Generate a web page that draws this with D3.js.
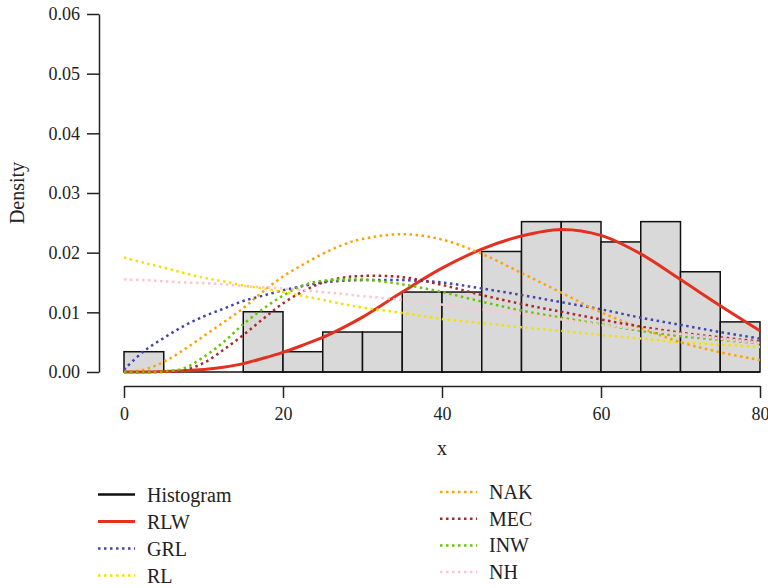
<!DOCTYPE html>
<head>
  <meta charset="utf-8">
  <style>
    body { margin: 0; background: #fff; }
    svg text { font-family: 'Liberation Serif', 'DejaVu Serif', serif !important; fill: #222; }
    .axis text { font-size: 18px; }
    .axis path, .axis line { stroke: #222; stroke-width: 1.5; }
  </style>
</head>
<body>
  <script src="https://cdn.jsdelivr.net/npm/d3@7"></script>
  <script>
    const width = 768;
    const height = 588;
    const serif = "'Liberation Serif', 'DejaVu Serif', serif";

    // histogram: bin starts (width 5) and densities
    const binStarts = [0, 5, 10, 15, 20, 25, 30, 35, 40, 45, 50, 55, 60, 65, 70, 75];
    const binDensity = [0.0034, 0, 0, 0.0101, 0.0034, 0.0067, 0.0067, 0.0134, 0.0134, 0.0202, 0.0252, 0.0252, 0.0218, 0.0252, 0.0168, 0.0084];

    // x positions where the fitted densities were read
    const xs = [0, 2.5, 5, 7.5, 10, 12.5, 15, 17.5, 20, 22.5, 25, 27.5, 30, 35, 40, 45, 50, 55, 60, 65, 70, 75, 80];
    const rlw = [0, 0, 0.0001, 0.0002, 0.0004, 0.0008, 0.0014, 0.0023, 0.0033, 0.0045, 0.0058, 0.0074, 0.0092, 0.0134, 0.0174, 0.0206, 0.0228, 0.0239, 0.0229, 0.0198, 0.0155, 0.0111, 0.0069];
    const grl = [0.0004, 0.0035, 0.0057, 0.0077, 0.0093, 0.0106, 0.0119, 0.0128, 0.0137, 0.0144, 0.0150, 0.0153, 0.0154, 0.0154, 0.0150, 0.0140, 0.0129, 0.0117, 0.0105, 0.0091, 0.0079, 0.0067, 0.0056];
    const rl  = [0.0192, 0.0183, 0.0175, 0.0166, 0.0158, 0.0152, 0.0145, 0.0140, 0.0134, 0.0127, 0.0121, 0.0114, 0.0108, 0.0099, 0.0089, 0.0082, 0.0075, 0.0069, 0.0062, 0.0056, 0.0050, 0.0046, 0.0042];
    const nak = [0, 0.0004, 0.0017, 0.0037, 0.0060, 0.0083, 0.0107, 0.0135, 0.0160, 0.0180, 0.0198, 0.0213, 0.0223, 0.0231, 0.0222, 0.0198, 0.0166, 0.0133, 0.0100, 0.0074, 0.0050, 0.0033, 0.0020];
    const mec = [0, 0, 0, 0.0003, 0.0015, 0.0037, 0.0062, 0.0089, 0.0115, 0.0135, 0.0150, 0.0158, 0.0161, 0.0159, 0.0146, 0.0129, 0.0114, 0.0101, 0.0088, 0.0076, 0.0066, 0.0058, 0.0051];
    const inw = [0, 0, 0.0001, 0.0006, 0.0025, 0.0050, 0.0080, 0.0106, 0.0128, 0.0145, 0.0153, 0.0155, 0.0155, 0.0147, 0.0134, 0.0118, 0.0103, 0.0091, 0.0080, 0.0069, 0.0060, 0.0054, 0.0048];
    const nh  = [0.0155, 0.0154, 0.0152, 0.0150, 0.0149, 0.0147, 0.0144, 0.0142, 0.0140, 0.0137, 0.0134, 0.0131, 0.0127, 0.0121, 0.0113, 0.0105, 0.0098, 0.0088, 0.0079, 0.0072, 0.0064, 0.0056, 0.0049];

    const yTicks = [0, 0.01, 0.02, 0.03, 0.04, 0.05, 0.06];
    const xTicks = [0, 20, 40, 60, 80];

    const series = [
      {name: "RLW", values: rlw, color: "#e3301f", dash: null, w: 3},
      {name: "GRL", values: grl, color: "#4346a8", dash: "2.5,3.5", w: 2.5},
      {name: "RL",  values: rl,  color: "#f5e100", dash: "2.5,3.5", w: 2.5},
      {name: "NAK", values: nak, color: "#ffa200", dash: "2.5,3.5", w: 2.5},
      {name: "MEC", values: mec, color: "#a52a2a", dash: "2.5,3.5", w: 2.5},
      {name: "INW", values: inw, color: "#6cc400", dash: "2.5,3.5", w: 2.5},
      {name: "NH",  values: nh,  color: "#ffc4cf", dash: "2.5,3.5", w: 2.5}
    ];

    const svg = d3.select("body").append("svg")
      .attr("width", width)
      .attr("height", height)
      .style("font-family", serif);

    const x = d3.scaleLinear().domain([0, 80]).range([124, 760]);
    const y = d3.scaleLinear().domain([0, 0.06]).range([372, 14]);

    // histogram
    const hist = svg.append("g").attr("id", "hist");
    hist.selectAll("rect")
      .data(binStarts.map((b, i) => ({b: b, d: binDensity[i]})).filter(d => d.d > 0))
      .enter().append("rect")
      .attr("x", d => x(d.b))
      .attr("width", d => x(d.b + 5) - x(d.b))
      .attr("y", d => y(d.d))
      .attr("height", d => y(0) - y(d.d))
      .attr("fill", "#d9d9d9")
      .attr("stroke", "#111")
      .attr("stroke-width", 1.5);
    hist.append("line")
      .attr("x1", x(0)).attr("x2", x(80))
      .attr("y1", y(0)).attr("y2", y(0))
      .attr("stroke", "#111").attr("stroke-width", 1.5);

    // fitted curves
    const line = d3.line()
      .x((d, i) => x(xs[i]))
      .y(d => y(d))
      .curve(d3.curveCatmullRom.alpha(0.5));

    svg.append("g").attr("id", "curves")
      .selectAll("path")
      .data(series).enter().append("path")
      .attr("d", s => line(s.values))
      .attr("fill", "none")
      .attr("stroke", s => s.color)
      .attr("stroke-width", s => s.w)
      .attr("stroke-dasharray", s => s.dash);

    // axes
    const yAxis = svg.append("g")
      .attr("class", "axis")
      .attr("transform", "translate(99,0)")
      .call(d3.axisLeft(y).tickValues(yTicks).tickFormat(d3.format(".2f"))
        .tickSize(12).tickSizeOuter(0).tickPadding(7));
    yAxis.attr("font-family", serif).attr("font-size", 18);

    const xAxis = svg.append("g")
      .attr("class", "axis")
      .attr("transform", "translate(0,386)")
      .call(d3.axisBottom(x).tickValues(xTicks)
        .tickSize(12).tickSizeOuter(0).tickPadding(9));
    xAxis.attr("font-family", serif).attr("font-size", 18);

    svg.append("text")
      .attr("transform", "translate(24,193) rotate(-90)")
      .attr("text-anchor", "middle")
      .style("font-size", "20px")
      .text("Density");

    svg.append("text")
      .attr("x", 442).attr("y", 455)
      .attr("text-anchor", "middle")
      .style("font-size", "20px")
      .text("x");

    // legend
    const legendItems = [{name: "Histogram", color: "#111", dash: null, w: 2.5}].concat(series);
    const legend = svg.append("g").attr("id", "legend");
    legendItems.forEach((d, i) => {
      const col = i < 4 ? 0 : 1;
      const row = i < 4 ? i : i - 4;
      const lx = col === 0 ? 98 : 440;
      const ly = col === 0 ? 494.5 + row * 27 : 492 + row * 26.7;
      const g = legend.append("g");
      g.append("line")
        .attr("x1", lx).attr("x2", lx + 37)
        .attr("y1", ly).attr("y2", ly)
        .attr("stroke", d.color)
        .attr("stroke-width", d.w)
        .attr("stroke-dasharray", d.dash);
      g.append("text")
        .attr("x", lx + 49).attr("y", ly)
        .attr("dy", "0.35em")
        .style("font-size", "20px")
        .text(d.name);
    });
  </script>
</body>
